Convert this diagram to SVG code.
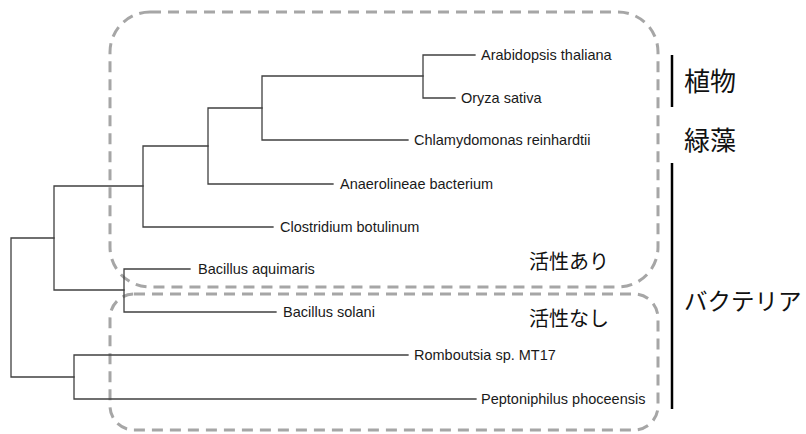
<svg xmlns="http://www.w3.org/2000/svg" width="806" height="434" viewBox="0 0 806 434">
<style>
.br{fill:none;stroke:#404040;stroke-width:1.3;stroke-linecap:square}
.box{fill:none;stroke:#a6a6a6;stroke-width:3;stroke-dasharray:11 7}
.lbl{font-family:"Liberation Sans",Arial,sans-serif;font-size:14.5px;fill:#1a1a1a}
.jp{font-family:"Noto Sans CJK JP","Noto Sans",sans-serif;fill:#111}
.bar{stroke:#000;stroke-width:2.5}
</style>
<rect width="806" height="434" fill="#fff"/>
<g id="groups">
<rect id="active-box" class="box" x="110" y="12" width="548" height="275" rx="40" ry="40"/>
<rect id="inactive-box" class="box" x="110" y="294" width="548" height="136" rx="24" ry="24"/>
</g>
<g id="connectors">
<path class="br" d="M11,238V377M11,238H54M11,377H74"/>
<path class="br" d="M54,186V290M54,186H143M54,290H124"/>
<path class="br" d="M143,146V227M143,146H208M143,227H273"/>
<path class="br" d="M208,108V184M208,108H262M208,184H333"/>
<path class="br" d="M262,76V140M262,76H423M262,140H408"/>
<path class="br" d="M423,55V98M423,55H475M423,98H455"/>
<path class="br" d="M124,269V312M124,269H190M124,312H276"/>
<path class="br" d="M74,355V399M74,355H408M74,399H476"/>
</g>
<g id="leaf-arabidopsis"><text class="lbl" x="481" y="60">Arabidopsis thaliana</text></g>
<g id="leaf-oryza"><text class="lbl" x="461" y="103">Oryza sativa</text></g>
<g id="leaf-chlamydomonas"><text class="lbl" x="414" y="145">Chlamydomonas reinhardtii</text></g>
<g id="leaf-anaerolineae"><text class="lbl" x="340" y="189">Anaerolineae bacterium</text></g>
<g id="leaf-clostridium"><text class="lbl" x="280" y="232">Clostridium botulinum</text></g>
<g id="leaf-bacillus-aquimaris"><text class="lbl" x="198" y="274">Bacillus aquimaris</text></g>
<g id="leaf-bacillus-solani"><text class="lbl" x="283" y="317">Bacillus solani</text></g>
<g id="leaf-romboutsia"><text class="lbl" x="414" y="360">Romboutsia sp. MT17</text></g>
<g id="leaf-peptoniphilus"><text class="lbl" x="481" y="404">Peptoniphilus phoceensis</text></g>
<g id="label-active"><text class="jp" x="529" y="269" font-size="20">活性あり</text></g>
<g id="label-inactive"><text class="jp" x="529" y="326" font-size="20">活性なし</text></g>
<g id="clade-plants">
<line class="bar" x1="672" y1="55" x2="672" y2="107"/>
<text class="jp" x="684" y="91" font-size="26">植物</text>
</g>
<g id="clade-algae"><text class="jp" x="684" y="150" font-size="26">緑藻</text></g>
<g id="clade-bacteria">
<line class="bar" x1="672" y1="163" x2="672" y2="409"/>
<text class="jp" x="684" y="310" font-size="23.5">バクテリア</text>
</g>
</svg>
